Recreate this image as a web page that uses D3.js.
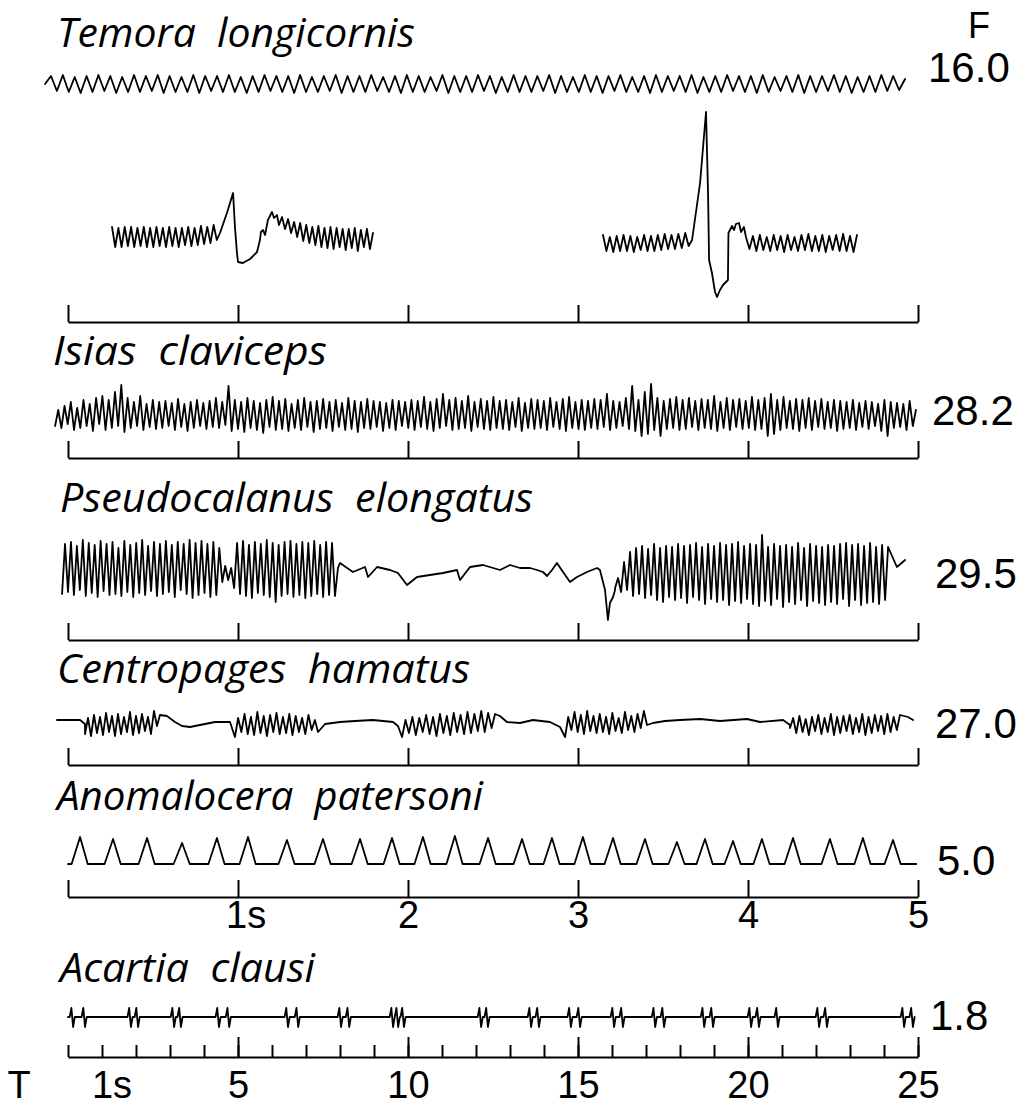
<!DOCTYPE html>
<html><head><meta charset="utf-8">
<script src="https://cdn.jsdelivr.net/npm/d3@7"></script>
<style>body{margin:0;background:#fff}svg{display:block}</style>
</head><body>
<svg id="c" width="1025" height="1105"></svg>
<script>
// ================= DATA =================
const species = ["Temora  longicornis","Isias  claviceps","Pseudocalanus  elongatus","Centropages  hamatus","Anomalocera  patersoni","Acartia  clausi"];
const frequencies = ["16.0","28.2","29.5","27.0","5.0","1.8"];
const freqHeader = "F";
const timeHeader = "T";
const secTicks = [0,1,2,3,4,5];
const secLabelTicks = [1,2,3,4,5];
const secLabels = ["1s","2","3","4","5"];
const longTicks = [0,1,2,3,4,5,6,7,8,9,10,11,12,13,14,15,16,17,18,19,20,21,22,23,24,25];
const longMajorTicks = [5,10,15,20,25];
const longLabelTicks = [1,5,10,15,20,25];
const longLabels = ["1s","5","10","15","20","25"];

// Temora longicornis, continuous record (seconds span, deflection)
const temoraRunSpan = [-0.135, 4.924];
const temoraRun = [0,8,-7,9,-8,7,-9,8,-8,9,-7,8,-9,7,-8,9,-8,8,-7,9,-9,8,-8,7,-8,9,-9,8,-7,8,-8,9,-8,7,-9,8,-8,9,-7,8,-8,8,-9,9,-8,7,-8,8,-7,9,-9,8,-8,8,-8,9,-7,7,-8,8,-9,9,-8,8,-8,7,-7,9,-9,8,-8,8,-8,9,-7,8,-9,7,-8,9,-8,8,-8,8,-7,9,-9,8,-8,7,-8,9,-8,8,-9,8,-7,9,-8,7,-8,8,-9,9,-8,8,-7,8,-8,9,-9,7,-8,8,-8,9,-7,8,-8,8,-9,9,-8,7,-7,8,-8,9,-9,8,-8,8,-7,9,-8,8,-9,7,-8,8,-8,9,-7,8,-6,5];
// Temora expanded records
const tzlPreSpan = [0.259, 0.894];
const tzlPre = [10,-10,9,-10,10,-9,10,-10,9,-9,10,-10,9,-10,10,-9,9,-10,10,-9,9,-10,9,-8,10,-9,9,-8,11,-7,10,-6,12,-3,4];
const tzlSpike = [[0.894,4],[0.935,24],[0.953,34],[0.971,44],[0.982,10],[0.994,-16],[1.0,-25],[1.029,-26],[1.071,-22],[1.112,-15],[1.129,-3],[1.135,5],[1.147,7],[1.159,2],[1.176,17],[1.2,25],[1.212,19],[1.229,22],[1.241,12]];
const tzlPostSpan = [1.241, 1.794];
const tzlPost = [12,20,8,18,4,15,0,14,-4,12,-6,10,-8,11,-10,9,-11,10,-12,9,-10,8,-13,8,-11,9,-14,7,-10,8,-12,4];
const tzrPreSpan = [3.147, 3.671];
const tzrPre = [8,-8,6,-9,7,-8,8,-8,7,-9,6,-7,8,-8,7,-8,8,-7,9,-6,8,-6,9,-5,10,-3,3];
const tzrSpike = [[3.671,3],[3.718,60],[3.753,131],[3.765,50],[3.771,-17],[3.788,-30],[3.806,-49],[3.818,-54],[3.835,-47],[3.853,-42],[3.882,-37],[3.885,10],[3.906,17],[3.918,13],[3.929,19],[3.947,20],[3.959,11],[3.976,16],[3.988,6]];
const tzrPostSpan = [3.988, 4.641];
const tzrPost = [6,-6,7,-8,8,-7,6,-8,8,-7,7,-9,8,-7,6,-8,8,-7,9,-8,7,-8,8,-9,7,-7,8,-8,9,-8,7,-9,8];

// Isias claviceps
const isiasSpan = [-0.076, 4.988];
const isiasRun = [-10,6,-12,10,-8,14,-14,8,-12,16,-10,12,-15,18,-8,20,-14,16,-12,24,-10,31,-16,18,-12,14,-10,20,
-14,12,-11,16,-13,14,-12,15,-10,13,-14,17,-11,12,-15,14,-12,16,-10,13,-13,15,-11,18,-12,14,-9,30,
-15,16,-13,14,-16,18,-12,15,-14,13,-17,16,-11,19,-14,15,-13,17,-15,12,-12,16,-14,18,-11,14,-16,15,
-13,17,-12,14,-15,16,-11,13,-14,18,-13,15,-16,14,-12,17,-13,15,-11,14,-15,13,-12,16,-14,15,-10,14,
-12,16,-14,15,-11,19,-13,14,-15,17,-12,22,-10,16,-14,18,-13,15,-12,20,-15,14,-11,17,-13,15,-14,19,
-12,15,-13,16,-14,14,-11,18,-15,13,-12,17,-13,16,-12,15,-14,18,-11,14,-13,17,-15,19,-12,14,-13,16,
-14,15,-12,17,-13,16,-11,22,-14,15,-12,14,-10,18,-13,30,-15,16,-20,24,-18,32,-14,18,-20,15,-13,17,
-12,19,-14,16,-13,18,-11,15,-14,17,-12,16,-13,20,-15,14,-12,18,-14,16,-11,17,-13,15,-12,19,-14,16,
-13,18,-20,22,-18,16,-14,19,-12,15,-13,17,-15,16,-12,18,-14,15,-11,17,-13,14,-12,16,-15,15,-13,14,
-12,16,-14,13,-11,15,-13,14,-10,12,-15,16,-20,14,-12,13,-11,12,-14,15,-10,6];

// Pseudocalanus elongatus
const pseudoBurst1Span = [-0.035, 1.588];
const pseudoBurst1 = [-24,26,-22,28,-25,24,-20,30,-26,27,-23,25,-27,29,-21,26,-25,28,-24,22,-26,29,-22,25,-27,27,-23,30,-25,24,-21,28,-26,26,-24,29,-22,25,-27,28,-20,26,-24,30,-28,27,-25,29,-23,26,-27,28,-25,22,-12,4,-10,2,-18,27,-24,29,-26,25,-28,28,-23,26,-25,30,-27,27,-32,25,-26,28,-24,29,-27,26,-25,28,-28,27,-26,29,-24,25,-27,28,-25,27,-26,2];
const pseudoQuiet = [[1.588,2],[1.6,7],[1.676,-2],[1.747,3],[1.765,-7],[1.818,3],[1.894,0],[1.941,-3],[1.994,-15],[2.053,-7],[2.129,-5],[2.206,-3],[2.288,0],[2.306,-10],[2.365,3],[2.441,5],[2.541,0],[2.6,5],[2.659,2],[2.718,2],[2.759,0],[2.794,-2],[2.818,-6],[2.847,0],[2.876,7],[2.912,-2],[2.953,-12],[2.994,-7],[3.053,-2],[3.112,2],[3.129,0],[3.159,-20],[3.176,-50],[3.188,-33],[3.206,-27],[3.218,-20]];
const pseudoBurst2Span = [3.218, 4.824];
const pseudoBurst2 = [-18,-8,-22,8,-20,18,-26,22,-24,24,-28,21,-25,26,-30,22,-32,24,-27,23,-30,26,-28,24,-33,25,-27,27,-30,23,-34,26,-29,24,-32,27,-30,25,-35,26,-31,28,-33,24,-29,26,-34,25,-36,35,-31,23,-35,26,-29,24,-37,25,-32,23,-34,27,-30,22,-36,26,-31,24,-33,23,-35,25,-32,24,-34,26,-29,27,-36,25,-30,26,-35,24,-33,27,-32,23,-34,25,-30,23];
const pseudoTail = [[4.824,23],[4.876,3],[4.924,10]];

// Centropages hamatus
const centroQuiet1 = [[-0.065,0],[0.071,0],[0.1,-4]];
const centroBurst1Span = [0.1, 0.541];
const centroBurst1 = [-14,2,-16,5,-13,3,-15,7,-12,4,-16,6,-14,3,-12,8,-15,4,-13,6,-11,3,-14,9,-6,5];
const centroQuiet2 = [[0.541,5],[0.582,4],[0.629,-2],[0.671,-6],[0.718,-7],[0.776,-5],[0.865,-2],[0.953,-2],[0.982,-17]];
const centroBurst2Span = [0.982, 1.471];
const centroBurst2 = [-17,2,-12,6,-14,3,-15,8,-13,4,-16,5,-12,7,-14,3,-13,6,-15,4,-12,2,-14,5,-10,0,-12];
const centroQuiet3 = [[1.471,-12],[1.512,-4],[1.6,-2],[1.688,-1],[1.794,0],[1.912,-2],[1.941,-6],[1.965,-17]];
const centroBurst3Span = [1.965, 2.512];
const centroBurst3 = [-17,0,-13,3,-15,2,-12,5,-14,3,-16,6,-13,4,-15,7,-12,5,-14,8,-13,6,-11,9,-12,7,-8,6];
const centroQuiet4 = [[2.512,6],[2.541,4],[2.582,-2],[2.659,-3],[2.735,0],[2.835,-2],[2.894,-7],[2.924,-17]];
const centroBurst4Span = [2.924, 3.406];
const centroBurst4 = [-17,3,-10,8,-12,5,-14,9,-11,4,-13,6,-12,3,-14,7,-11,2,-13,8,-10,4,-12,6,-8,9,-5];
const centroQuiet5 = [[3.406,-5],[3.441,-3],[3.512,-1],[3.6,0],[3.718,1],[3.835,-1],[3.994,1],[4.071,-2],[4.206,0],[4.247,-5]];
const centroBurst5Span = [4.247, 4.894];
const centroBurst5 = [-8,2,-13,4,-12,1,-15,3,-11,5,-14,2,-12,6,-15,3,-13,4,-11,5,-14,2,-12,6,-15,3,-13,5,-11,4,-14,6,-12,3,-10,5];
const centroQuiet6 = [[4.894,5],[4.941,3],[4.971,0]];

// Anomalocera patersoni: peak times (s) and peak heights
const anomaPeakTimes = [0.071,0.265,0.465,0.671,0.876,1.059,1.288,1.5,1.718,1.906,2.088,2.276,2.471,2.671,2.847,3.029,3.206,3.394,3.582,3.747,3.912,4.082,4.265,4.482,4.676,4.853];
const anomaPeakHeights = [27,25,26,21,26,27,24,25,25,26,27,28,26,25,26,27,26,25,22,25,23,25,26,25,26,24];

// Acartia clausi: spike times (s)
const acartiaSpikes = [0.12,0.47,1.82,2.03,3.09,3.29,4.41,4.71,6.44,6.74,8.0,8.24,9.53,9.68,9.85,12.12,12.32,13.59,13.82,14.76,15.03,16.03,16.29,17.24,17.5,18.68,18.94,20.06,20.29,20.85,22.06,22.29,24.56,24.82];

// ================= LAYOUT =================
const svg = d3.select("#c");
const X5 = d3.scaleLinear().domain([0,5]).range([68,918]);
const X25 = d3.scaleLinear().domain([0,25]).range([68,918]);
const yAt = c => d3.scaleLinear().domain([-50,50]).range([c+50, c-50]);
const uniform = (span, vals) => vals.map((v,i) => [span[0] + i*(span[1]-span[0])/(vals.length-1), v]);
const NUMFONT = "'Liberation Sans', Arial, sans-serif";

function trace(points, x, y){
  svg.append("path")
    .attr("d", d3.line().x(d=>x(d[0])).y(d=>y(d[1]))(points))
    .attr("fill","none").attr("stroke","#000").attr("stroke-width",1.8)
    .attr("stroke-linejoin","round").attr("stroke-linecap","round");
}

// Temora
trace(uniform(temoraRunSpan, temoraRun), X5, yAt(84));
trace([].concat(uniform(tzlPreSpan,tzlPre), tzlSpike, uniform(tzlPostSpan,tzlPost)), X5, yAt(237));
trace([].concat(uniform(tzrPreSpan,tzrPre), tzrSpike, uniform(tzrPostSpan,tzrPost)), X5, yAt(243));
// Isias
trace(uniform(isiasSpan, isiasRun), X5, yAt(416));
// Pseudocalanus
trace([].concat(uniform(pseudoBurst1Span,pseudoBurst1), pseudoQuiet, uniform(pseudoBurst2Span,pseudoBurst2), pseudoTail), X5, yAt(570));
// Centropages
trace([].concat(centroQuiet1, uniform(centroBurst1Span,centroBurst1), centroQuiet2, uniform(centroBurst2Span,centroBurst2),
  centroQuiet3, uniform(centroBurst3Span,centroBurst3), centroQuiet4, uniform(centroBurst4Span,centroBurst4),
  centroQuiet5, uniform(centroBurst5Span,centroBurst5), centroQuiet6), X5, yAt(720));
// Anomalocera
{
  const pts = [[0,0]];
  anomaPeakTimes.forEach((t,i)=>{ pts.push([Math.max(0,t-0.05),0],[t,anomaPeakHeights[i]],[t+0.045,0]); });
  pts.push([4.99,0]);
  trace(pts, X5, yAt(864));
}
// Acartia
{
  const pts = [[0,0]];
  acartiaSpikes.forEach(t=>{ pts.push([t-0.07,0],[t-0.02,9],[t+0.03,-10],[t+0.08,0]); });
  trace(pts, X25, yAt(1017));
}

// ---- axes ----
function styleAxis(g){
  g.select(".domain").attr("stroke-width",2);
  g.selectAll(".tick line").attr("stroke-width",2);
}
[322,458,640,765,897].forEach(yy=>{
  svg.append("g").attr("transform",`translate(0,${yy})`)
    .call(d3.axisBottom(X5).tickValues(secTicks).tickSize(-17).tickSizeOuter(0).tickFormat(""))
    .call(styleAxis);
});
// Anomalocera axis labels
svg.append("g").attr("transform","translate(0,897)")
  .call(d3.axisBottom(X5).tickValues(secLabelTicks).tickSize(0).tickPadding(4).tickFormat((d,i)=>secLabels[i]))
  .call(g=>{ g.select(".domain").remove();
    g.selectAll("text").attr("font-family",NUMFONT).attr("font-size",38).attr("fill","#000")
     .attr("dx",(d)=> d===1 ? "0.2em" : 0); });
// Acartia axis
svg.append("g").attr("transform","translate(0,1057)")
  .call(d3.axisBottom(X25).tickValues(longTicks).tickSize(-12).tickSizeOuter(0).tickFormat(""))
  .call(styleAxis);
svg.append("g").attr("transform","translate(0,1057)")
  .call(d3.axisBottom(X25).tickValues(longMajorTicks).tickSize(-20).tickSizeOuter(0).tickFormat(""))
  .call(g=>{ g.select(".domain").remove(); g.selectAll(".tick line").attr("stroke-width",2); });
svg.append("g").attr("transform","translate(0,1057)")
  .call(d3.axisBottom(X25).tickValues(longLabelTicks).tickSize(0).tickPadding(14).tickFormat((d,i)=>longLabels[i]))
  .call(g=>{ g.select(".domain").remove();
    g.selectAll("text").attr("font-family",NUMFONT).attr("font-size",38).attr("fill","#000")
     .attr("dx",(d)=> d===1 ? "0.25em" : 0); });
svg.append("text").attr("x",19).attr("y",1098).attr("text-anchor","middle")
  .attr("font-family",NUMFONT).attr("font-size",38).text(timeHeader);

// ---- species names ----
const labelPos = [[57,47,358],[53,365,274],[60,512,473],[57,683,413],[57,810,426],[60,982,255]];
species.forEach((s,i)=>{
  svg.append("text").attr("x",labelPos[i][0]).attr("y",labelPos[i][1])
    .attr("font-family","'Open Sans', 'Noto Sans', sans-serif").attr("font-style","italic").attr("font-size",40)
    .attr("textLength",labelPos[i][2]).attr("lengthAdjust","spacingAndGlyphs")
    .style("white-space","pre").text(s);
});
// ---- frequencies ----
const freqPos = [[928,82],[932,425],[935,588],[935,738],[937,875],[930,1030]];
frequencies.forEach((f,i)=>{
  svg.append("text").attr("x",freqPos[i][0]).attr("y",freqPos[i][1])
    .attr("font-family",NUMFONT).attr("font-size",42).text(f);
});
svg.append("text").attr("x",979).attr("y",38).attr("text-anchor","middle")
  .attr("font-family",NUMFONT).attr("font-size",36).text(freqHeader);
</script>
</body></html>
